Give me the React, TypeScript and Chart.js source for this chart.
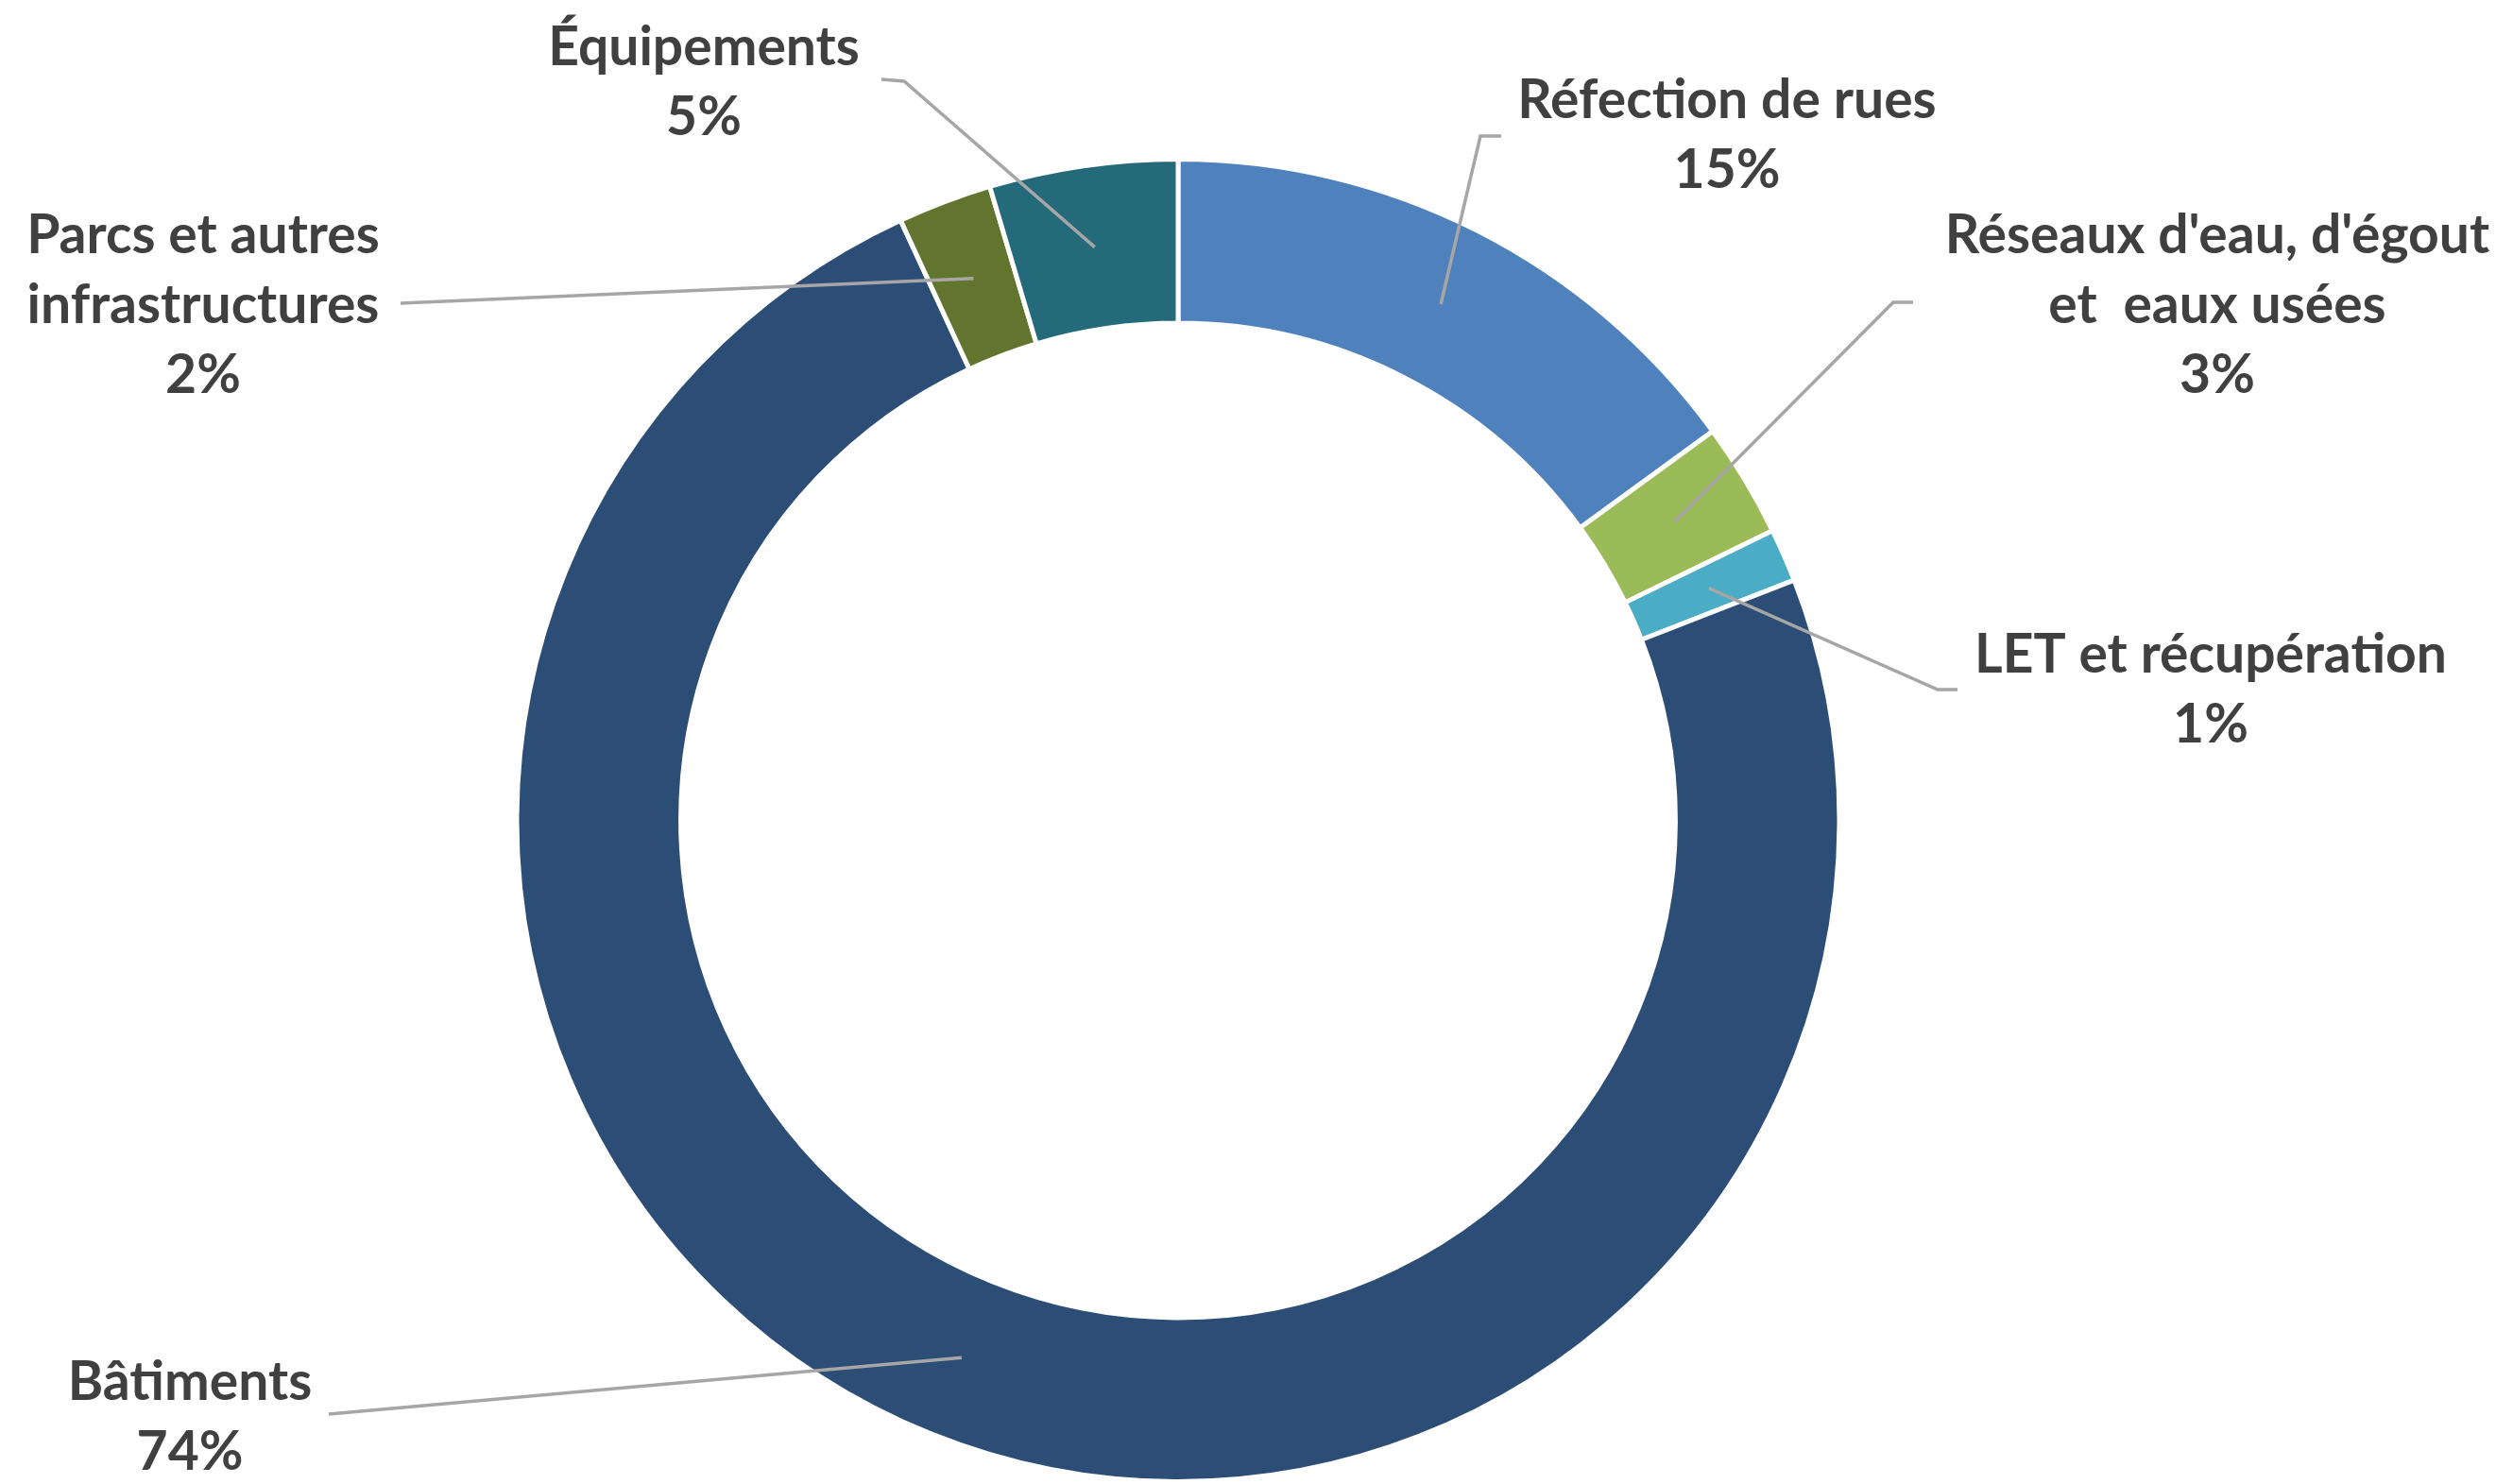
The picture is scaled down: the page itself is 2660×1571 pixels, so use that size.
import React, { useEffect, useRef } from "react";
import { Chart, registerables } from "chart.js";

Chart.register(...registerables);

// ---- Data ----
const categories = [
  "Réfection de rues",
  "Réseaux d'eau, d'égout et eaux usées",
  "LET et récupération",
  "Bâtiments",
  "Parcs et autres infrastructures",
  "Équipements",
];
const labelLines = [
  ["Réfection de rues"],
  ["Réseaux d'eau, d'égout", "et  eaux usées"],
  ["LET et récupération"],
  ["Bâtiments"],
  ["Parcs et autres", "infrastructures"],
  ["Équipements"],
];
const shares = [15.0, 2.8, 1.3, 74.1, 2.3, 4.6];
const colors = ["#4F81BD", "#9BBB59", "#4BACC6", "#2C4D75", "#62752F", "#246A7A"];

// ---- Layout (label placement) ----
const W = 2660;
const H = 1571;
const FONT = "bold 57px Lato, 'Open Sans', sans-serif";
const LINE_H = 74;
const labelLayout = [
  { x: 1828, y: 107, start: [1589, 144], elbow: [1567, 144] },
  { x: 2347, y: 250, start: [2025, 320], elbow: [2004, 320] },
  { x: 2340, y: 694, start: [2072, 730], elbow: [2051, 730] },
  { x: 201, y: 1464, start: [348, 1497], elbow: [348, 1497] },
  { x: 215, y: 250, start: [424, 321], elbow: [424, 321] },
  { x: 745, y: 51, start: [933, 84], elbow: [957, 86] },
];

const labelPlugin = {
  id: "leaderLabels",
  afterDatasetsDraw(chart: any) {
    const ctx = chart.ctx as CanvasRenderingContext2D;
    const meta = chart.getDatasetMeta(0);
    ctx.save();
    meta.data.forEach((arc: any, i: number) => {
      const L = labelLayout[i];
      const c = arc.tooltipPosition();
      ctx.beginPath();
      ctx.strokeStyle = "#A6A6A6";
      ctx.lineWidth = 3.5;
      ctx.moveTo(L.start[0], L.start[1]);
      ctx.lineTo(L.elbow[0], L.elbow[1]);
      ctx.lineTo(c.x, c.y);
      ctx.stroke();

      ctx.fillStyle = "#404040";
      ctx.font = FONT;
      ctx.textAlign = "center";
      ctx.textBaseline = "middle";
      const lines = [...labelLines[i], Math.round(shares[i]) + "%"];
      lines.forEach((t, k) => ctx.fillText(t, L.x, L.y + k * LINE_H));
    });
    ctx.restore();
  },
};

export default function App() {
  const ref = useRef<HTMLCanvasElement | null>(null);
  useEffect(() => {
    document.body.style.margin = "0";
    const chart = new Chart(ref.current!, {
      type: "doughnut",
      data: {
        labels: categories,
        datasets: [
          {
            data: shares,
            backgroundColor: colors,
            borderColor: "#FFFFFF",
            borderWidth: 5,
          },
        ],
      },
      options: {
        animation: false,
        responsive: false,
        devicePixelRatio: 1,
        cutout: "75.2%",
        layout: { padding: { top: 166, bottom: -15, left: 537, right: 703 } },
        plugins: { legend: { display: false }, tooltip: { enabled: false } },
      },
      plugins: [labelPlugin],
    });
    return () => chart.destroy();
  }, []);
  return (
    <div style={{ position: "absolute", left: 0, top: 0, width: W, height: H, background: "#fff" }}>
      <canvas ref={ref} width={W} height={H} style={{ width: W, height: H }} />
    </div>
  );
}
